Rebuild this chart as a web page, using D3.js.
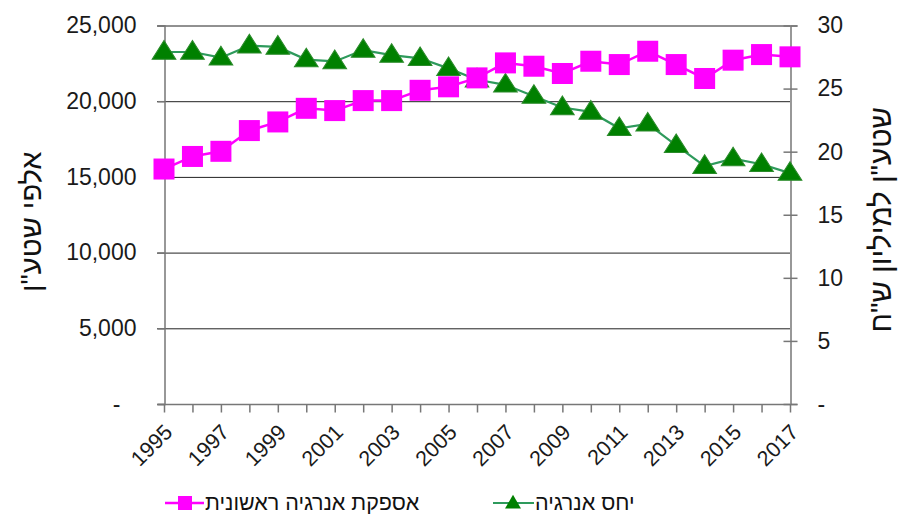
<!DOCTYPE html>
<html>
<head>
<meta charset="utf-8">
<script src="https://cdn.jsdelivr.net/npm/d3@7"></script>
<style>
  body { margin: 0; background: #fff; }
  svg { font-family: "Liberation Sans", Arial, sans-serif; }
</style>
</head>
<body>
<svg id="chart" width="901" height="514"></svg>
<script>
"use strict";

// --- data ---
const years = d3.range(1995, 2018)
const supply = [15520, 16350, 16690, 18060, 18630, 19530, 19380, 20040, 20040, 20720,
    20950, 21540, 22530, 22310, 21830, 22640, 22420, 23300, 22420, 21500, 22710, 23080, 22930]
const ratio = [27.9, 27.9, 27.45, 28.4, 28.3, 27.3, 27.15, 28.05, 27.65, 27.4,
    26.6, 25.7, 25.3, 24.4, 23.5, 23.15, 21.85, 22.2, 20.5, 18.85, 19.45, 19.0, 18.3]
const leftTicks = [0, 5000, 10000, 15000, 20000, 25000]
const rightTicks = [0, 5, 10, 15, 20, 25, 30]
const labelYears = d3.range(1995, 2018, 2)
const supplyName = "אספקת אנרגיה ראשונית"
const ratioName = "יחס אנרגיה"
const leftTitle = "אלפי שטע\"ן"
const rightTitle = "שטע\"ן למיליון ש\"ח"

const pink = "#ff00ff"
const green = "#008000"
const greenLine = "#2e9a5c"
const textColor = "#1a1a1a"

const m = { left: 164, right: 790, top: 25.5, bottom: 404 }
const svg = d3.select("#chart")

const x = d3.scaleLinear().domain([1995, 2017]).range([m.left, m.right])
const yL = d3.scaleLinear().domain([0, 25000]).range([m.bottom, m.top])
const yR = d3.scaleLinear().domain([0, 30]).range([m.bottom, m.top])

const fmtL = v => v === 0 ? "-" : d3.format(",")(v)
const fmtR = v => v === 0 ? "-" : String(v)

// gridlines
svg.append("g")
    .selectAll("line")
    .data(leftTicks.filter(v => v > 0))
    .enter().append("line")
    .attr("x1", m.left - 7).attr("x2", m.right)
    .attr("y1", d => yL(d) + 0.5).attr("y2", d => yL(d) + 0.5)
    .attr("stroke", "#222").attr("stroke-width", 1)

// left axis
const gl = svg.append("g")
    .attr("transform", `translate(${m.left + 0.5},0)`)
    .call(d3.axisLeft(yL).tickValues(leftTicks).tickFormat(fmtL).tickSizeOuter(0).tickSize(7).tickPadding(21))
gl.select(".domain").attr("stroke", "#777").attr("stroke-width", 1.5)
gl.selectAll(".tick line").attr("stroke", "#777").attr("stroke-width", 1.5)
gl.selectAll(".tick text").attr("font-size", 23).attr("fill", textColor)
    .attr("font-family", "Liberation Sans, Arial")
    .attr("dx", d => d === 0 ? -16 : 0)

// right axis
const gr = svg.append("g")
    .attr("transform", `translate(${m.right + 0.5},0)`)
    .call(d3.axisRight(yR).tickValues(rightTicks).tickFormat(fmtR).tickSizeOuter(0).tickSize(7).tickPadding(20))
gr.select(".domain").attr("stroke", "#777").attr("stroke-width", 1.5)
gr.selectAll(".tick line").attr("x1", -7).attr("stroke", "#777").attr("stroke-width", 1.5)
gr.selectAll(".tick text").attr("font-size", 23).attr("fill", textColor)
    .attr("font-family", "Liberation Sans, Arial")

// bottom axis
const gx = svg.append("g")
    .attr("transform", `translate(0,${m.bottom + 0.5})`)
    .call(d3.axisBottom(x).tickValues(years).tickFormat("").tickSizeOuter(0).tickSize(8))
gx.select(".domain").attr("stroke", "#777").attr("stroke-width", 1.5)
    .attr("d", `M${m.left - 7},0H${m.right}`)
gx.selectAll(".tick line").attr("stroke", "#777").attr("stroke-width", 1.5)

svg.append("g")
    .selectAll("text")
    .data(labelYears)
    .enter().append("text")
    .attr("transform", d => `translate(${x(d) - 1},${m.bottom + 19}) rotate(-45)`)
    .attr("text-anchor", "end")
    .attr("dy", "0.7em")
    .attr("font-size", 21.5)
    .attr("fill", textColor)
    .text(d => d)

// axis titles
svg.append("text")
    .attr("transform", `translate(41,${(m.top + m.bottom) / 2 + 7}) rotate(-90)`)
    .attr("text-anchor", "middle")
    .attr("font-size", 29)
    .attr("fill", "#111")
    .text(leftTitle)

svg.append("text")
    .attr("transform", `translate(891,${(m.top + m.bottom) / 2 + 5}) rotate(-90)`)
    .attr("text-anchor", "middle")
    .attr("font-size", 29.5)
    .attr("fill", "#111")
    .text(rightTitle)

// ratio series (right axis)
const ratioLine = d3.line().x((d, i) => x(years[i])).y(d => yR(d))
svg.append("path")
    .datum(ratio)
    .attr("d", ratioLine)
    .attr("fill", "none")
    .attr("stroke", greenLine)
    .attr("stroke-width", 2.2)

const tri = d3.symbol().type(d3.symbolTriangle).size(200)
svg.append("g")
    .selectAll("path")
    .data(ratio)
    .enter().append("path")
    .attr("d", tri)
    .attr("transform", (d, i) => `translate(${x(years[i])},${yR(d) + 1}) scale(1.1,1)`)
    .attr("fill", green)
    .attr("stroke", "#2a8a2a")
    .attr("stroke-width", 1)

// supply series (left axis)
const supplyLine = d3.line().x((d, i) => x(years[i])).y(d => yL(d))
svg.append("path")
    .datum(supply)
    .attr("d", supplyLine)
    .attr("fill", "none")
    .attr("stroke", pink)
    .attr("stroke-width", 2.5)

const sq = 21
svg.append("g")
    .selectAll("rect")
    .data(supply)
    .enter().append("rect")
    .attr("x", (d, i) => x(years[i]) - sq / 2)
    .attr("y", d => yL(d) - sq / 2)
    .attr("width", sq).attr("height", sq)
    .attr("fill", pink)

// legend
const lg = svg.append("g").attr("font-size", 21.5).attr("fill", "#111")
lg.append("line").attr("x1", 165).attr("x2", 204).attr("y1", 503).attr("y2", 503)
    .attr("stroke", pink).attr("stroke-width", 2.5)
lg.append("rect").attr("x", 178).attr("y", 496).attr("width", 14).attr("height", 14).attr("fill", pink)
lg.append("text").attr("x", 205).attr("y", 510).text(supplyName)

lg.append("line").attr("x1", 493).attr("x2", 534).attr("y1", 503).attr("y2", 503)
    .attr("stroke", greenLine).attr("stroke-width", 2.2)
lg.append("path").attr("d", d3.symbol().type(d3.symbolTriangle).size(110))
    .attr("transform", "translate(513,504)")
    .attr("fill", green)
lg.append("text").attr("x", 535).attr("y", 510).text(ratioName)
</script>
</body>
</html>
